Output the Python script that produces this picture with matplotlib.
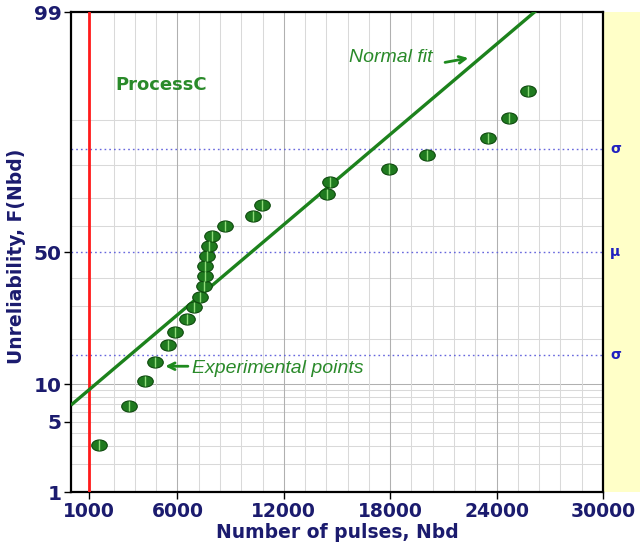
#!/usr/bin/env python3
"""
Normal probability plot: unreliability vs number of pulses (ProcessC)
"""

import math
import numpy as np
import matplotlib
matplotlib.use('Agg')
import matplotlib.pyplot as plt
from matplotlib.markers import MarkerStyle
from matplotlib.transforms import Affine2D, blended_transform_factory
from matplotlib.patches import Rectangle

# experimental points
pulses = [1600, 3270, 4190, 4740, 5490, 5880, 6560, 6950, 7280, 7520, 7580, 7580, 7650,
          7780, 7940, 8690, 10250, 10760, 14460, 14610, 17950, 20060, 23540, 24690, 25760]
unreliability = [3.1, 6.8, 10.6, 14.4, 18.3, 22.0, 25.8, 29.6, 33.2, 37.1, 40.9, 44.6, 48.4,
                 52.3, 56.2, 60.1, 63.6, 67.5, 71.2, 75.0, 78.9, 82.7, 86.5, 90.3, 94.1]

# normal fit parameters
fit_mu = 10180
fit_sigma = 6860
fit_range = [0, 30000]

# reference line
red_line_x = 1000

# axis ticks
x_ticks = [1000, 6000, 12000, 18000, 24000, 30000]
y_ticks = [1, 5, 10, 50, 99]
y_grid_light = [2, 3, 4, 5, 6, 7, 8, 9, 20, 30, 40, 60, 70, 80, 90]
y_grid_dark = [10]
x_grid_light = list(range(2400, 30000, 1200))
x_grid_dark = [6000, 12000, 18000, 24000]

NAVY = '#1b1b6e'
GREEN = '#1e8a1e'


def norm_ppf(p):
    """Acklam's approximation of inverse normal CDF (vectorised)"""
    a = [-3.969683028665376e+01, 2.209460984245205e+02, -2.759285104469687e+02,
         1.383577518672690e+02, -3.066479806614716e+01, 2.506628277459239e+00]
    b = [-5.447609879822406e+01, 1.615858368580409e+02, -1.556989798598866e+02,
         6.680131188771972e+01, -1.328068155288572e+01]
    c = [-7.784894002430293e-03, -3.223964580411365e-01, -2.400758277161838e+00,
         -2.549671010115750e+00, 4.374664141464968e+00, 2.938163982698783e+00]
    d = [7.784695709041462e-03, 3.224671290700398e-01, 2.445134137142996e+00,
         3.754408661907416e+00]
    p = np.clip(np.asarray(p, dtype=float), 1e-9, 1 - 1e-9)
    plow = 0.02425
    out = np.empty_like(p)

    lo = p < plow
    hi = p > 1 - plow
    mid = ~(lo | hi)

    q = np.sqrt(-2 * np.log(p[lo]))
    out[lo] = (((((c[0]*q+c[1])*q+c[2])*q+c[3])*q+c[4])*q+c[5]) / \
              ((((d[0]*q+d[1])*q+d[2])*q+d[3])*q+1)
    q = np.sqrt(-2 * np.log(1 - p[hi]))
    out[hi] = -(((((c[0]*q+c[1])*q+c[2])*q+c[3])*q+c[4])*q+c[5]) / \
               ((((d[0]*q+d[1])*q+d[2])*q+d[3])*q+1)
    q = p[mid] - 0.5
    r = q * q
    out[mid] = (((((a[0]*r+a[1])*r+a[2])*r+a[3])*r+a[4])*r+a[5])*q / \
               (((((b[0]*r+b[1])*r+b[2])*r+b[3])*r+b[4])*r+1)
    return out


_erf = np.vectorize(math.erf)


def norm_cdf(z):
    z = np.asarray(z, dtype=float)
    return 0.5 * (1 + _erf(z / math.sqrt(2)))


def pct_forward(v):
    return norm_ppf(np.asarray(v, dtype=float) / 100.0)


def pct_inverse(z):
    return 100.0 * norm_cdf(z)


fig = plt.figure(figsize=(6.4, 5.47), dpi=100)
ax = fig.add_axes([71/640, 55/547, 532/640, 480/547])
ax.set_yscale('function', functions=(pct_forward, pct_inverse))
ax.set_xlim(0, 30000)
ax.set_ylim(1, 99)

# yellow side panel
fig.add_artist(Rectangle((603/640, 55/547), 37/640, 480/547, transform=fig.transFigure,
                         facecolor='#ffffc8', edgecolor='none', zorder=0))

# grid
for y in y_grid_light:
    ax.axhline(y, color='#d9d9d9', lw=0.75, zorder=1)
for y in y_grid_dark:
    ax.axhline(y, color='#b0b0b0', lw=0.75, zorder=1)
for x in x_grid_light:
    ax.axvline(x, color='#d9d9d9', lw=0.75, zorder=1)
for x in x_grid_dark:
    ax.axvline(x, color='#b0b0b0', lw=0.75, zorder=1)

# sigma / mu lines
sigma_levels = [100 * norm_cdf(1.0), 50.0, 100 * norm_cdf(-1.0)]
sigma_labels = ['σ', 'μ', 'σ']
trans = blended_transform_factory(ax.transAxes, ax.transData)
for lvl, lab in zip(sigma_levels, sigma_labels):
    ax.axhline(lvl, color='#6666dd', lw=1.0, linestyle=(0, (1.2, 2.2)), zorder=2)
    ax.text(1.013, lvl, lab, transform=trans, color='#2020c0', fontsize=10,
            fontweight='bold', ha='left', va='center', clip_on=False)

# red line
ax.axvline(red_line_x, color='#ff1a1a', lw=2, zorder=3)

# normal fit
fit_x = np.array(fit_range, dtype=float)
fit_y = 100 * norm_cdf((fit_x - fit_mu) / fit_sigma)
ax.plot(fit_x, fit_y, color='#1c821c', lw=2.4, zorder=4, solid_capstyle='butt')

# experimental points
ell = MarkerStyle('o', transform=Affine2D().scale(1.4, 1.0))
ax.plot(pulses, unreliability, linestyle='none', marker=ell, markersize=8,
        markerfacecolor='#1f7a1f', markeredgecolor='#0e4a0e', markeredgewidth=0.8, zorder=5)
ax.plot(pulses, unreliability, linestyle='none', marker='|', markersize=7,
        markeredgecolor='#8fdc7a', markeredgewidth=1.0, zorder=6)

# annotations
ax.text(0.083, 0.848, 'ProcessC', transform=ax.transAxes, color='#2a8a2a',
        fontsize=13, fontweight='bold', ha='left', va='center')
ax.text(0.679, 0.906, 'Normal fit', transform=ax.transAxes, color='#2a8a2a',
        fontsize=14, style='italic', family='Liberation Sans', ha='right', va='center')
ax.annotate('', xy=(0.752, 0.905), xytext=(0.698, 0.894), xycoords='axes fraction',
            arrowprops=dict(arrowstyle='->', color=GREEN, lw=2, mutation_scale=12))
ax.text(0.228, 0.258, 'Experimental points', transform=ax.transAxes, color='#2a8a2a',
        fontsize=14, style='italic', family='Liberation Sans', ha='left', va='center')
ax.annotate('', xy=(0.172, 0.262), xytext=(0.225, 0.262), xycoords='axes fraction',
            arrowprops=dict(arrowstyle='->', color=GREEN, lw=2, mutation_scale=12))

# axes styling
ax.set_xticks(x_ticks)
ax.set_xticklabels([str(t) for t in x_ticks])
ax.set_yticks(y_ticks)
ax.set_yticklabels([str(t) for t in y_ticks])
ax.yaxis.set_minor_locator(matplotlib.ticker.NullLocator())
ax.xaxis.set_minor_locator(matplotlib.ticker.NullLocator())
ax.tick_params(axis='both', direction='out', length=5, width=1, color='black',
               labelcolor=NAVY)
ax.tick_params(axis='x', labelsize=13.5, pad=2)
ax.tick_params(axis='y', labelsize=14.5, pad=2)
for lab in ax.get_xticklabels() + ax.get_yticklabels():
    lab.set_fontweight('bold')

for sp in ax.spines.values():
    sp.set_linewidth(1.6)
    sp.set_color('black')

ax.set_xlabel('Number of pulses, Nbd', fontsize=13.5, fontweight='bold', color=NAVY,
              labelpad=2)
ax.set_ylabel('Unreliability, F(Nbd)', fontsize=13.5, fontweight='bold', color=NAVY)
ax.yaxis.set_label_coords(-0.085, 0.49)

plt.savefig('out.png', dpi=100, facecolor='white')
